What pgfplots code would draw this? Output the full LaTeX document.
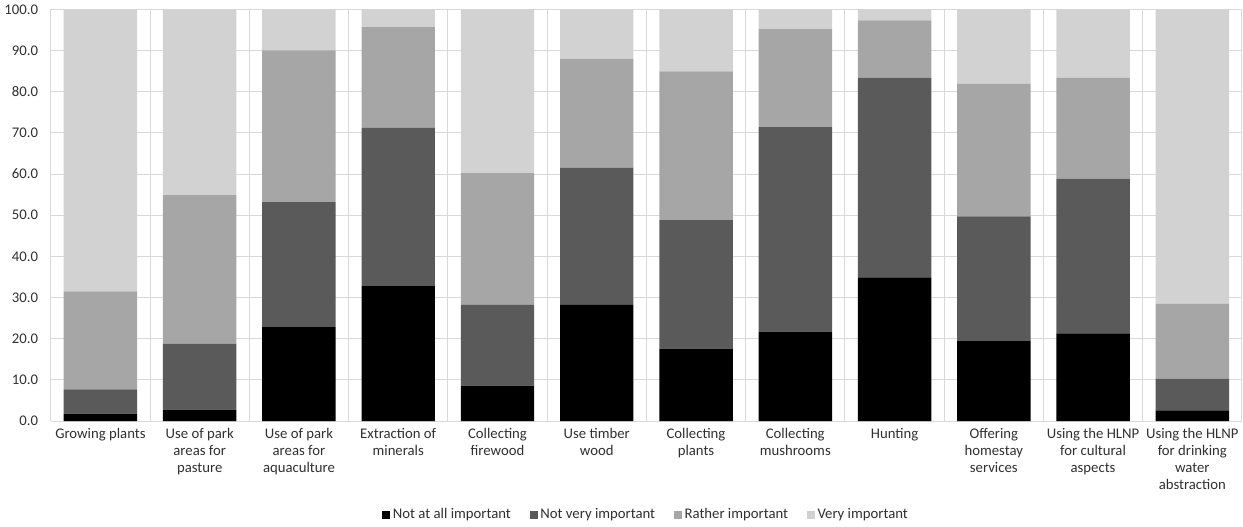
\documentclass[border=0pt]{standalone}
\usepackage{pgfplots}
\pgfplotsset{compat=1.18}
\usepackage{pgfplotstable}
\usepackage{fontspec}
\setmainfont{Carlito}

\definecolor{notatall}{HTML}{000000}
\definecolor{notvery}{HTML}{5A5A5A}
\definecolor{rather}{HTML}{A6A6A6}
\definecolor{very}{HTML}{D2D2D2}
\definecolor{gridc}{HTML}{D9D9D9}
\definecolor{txt}{HTML}{303030}

% shares per activity, in percent
\pgfplotstableread{
x  notatall notvery rather very
0  1.8      5.9     23.8   68.5
1  2.8      16.0    36.1   45.1
2  22.8     30.4    36.8   10.0
3  32.8     38.4    24.5   4.3
4  8.6      19.6    32.0   39.8
5  28.2     33.3    26.5   12.0
6  17.6     31.2    36.1   15.1
7  21.7     49.7    23.8   4.8
8  34.9     48.5    13.9   2.7
9  19.4     30.3    32.2   18.1
10 21.3     37.6    24.5   16.6
11 2.6      7.7     18.2   71.5
}\shares

\begin{document}
\begin{tikzpicture}
\begin{axis}[
  scale only axis,
  width=889.5pt, height=307.5pt,
  ybar stacked, bar width=0.74,
  xmin=-0.5, xmax=11.5, ymin=0, ymax=100,
  xtick={0,...,11},
  minor xtick={-0.5,0.5,...,11.5},
  xminorgrids, xmajorgrids=false,
  ytick={0,10,...,100}, ymajorgrids,
  grid style={gridc, line width=0.75pt},
  minor grid style={gridc, line width=0.75pt},
  axis line style={draw=none},
  major tick length=0pt, minor tick length=0pt,
  xticklabels={{Growing plants},{Use of park\\areas for\\pasture},{Use of park\\areas for\\aquaculture},{Extraction of\\minerals},{Collecting\\firewood},{Use timber\\wood},{Collecting\\plants},{Collecting\\mushrooms},{Hunting},{Offering\\homestay\\services},{Using the HLNP\\for cultural\\aspects},{Using the HLNP\\for drinking\\water\\abstraction}},
  xticklabel style={align=center, text=txt, font=\fontsize{11}{12.75}\selectfont, yshift=-2pt},
  yticklabel style={text=txt, font=\fontsize{11}{13}\selectfont, xshift=-6pt},
  /pgf/number format/.cd, fixed, fixed zerofill, precision=1, assume math mode=true,
  /pgfplots/.cd,
  legend style={draw=none, legend columns=4, at={(0.5,-0.227)}, anchor=center,
    font=\fontsize{11}{13}\selectfont, text=txt,
    /tikz/every even column/.append style={column sep=12pt}},
  legend image code/.code={\fill[#1] (0pt,-3pt) rectangle (6pt,3pt);},
  every axis plot/.append style={draw=none},
]
\addplot[fill=notatall] table[x=x,y=notatall]{\shares};
\addplot[fill=notvery] table[x=x,y=notvery]{\shares};
\addplot[fill=rather] table[x=x,y=rather]{\shares};
\addplot[fill=very] table[x=x,y=very]{\shares};
\legend{Not at all important,Not very important,Rather important,Very important}
\end{axis}
\end{tikzpicture}
\end{document}
